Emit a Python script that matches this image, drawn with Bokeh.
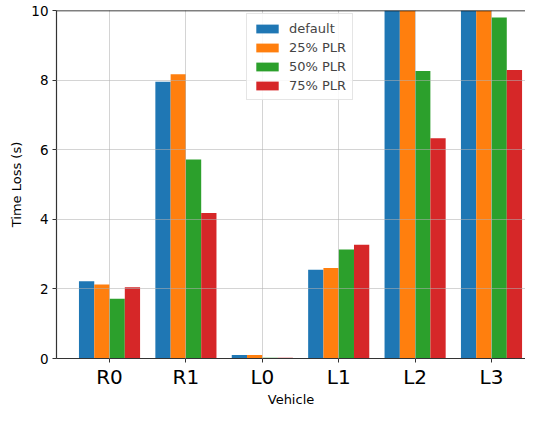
from bokeh.plotting import figure
from bokeh.models import ColumnDataSource, Legend, LegendItem, FixedTicker, Span, Range1d
from bokeh.embed import file_html
from bokeh.resources import INLINE

categories = ["R0", "R1", "L0", "L1", "L2", "L3"]
series_names = ["default", "25% PLR", "50% PLR", "75% PLR"]
default_vals = [2.22, 7.95, 0.10, 2.55, 12.0, 12.5]
plr25_vals = [2.13, 8.17, 0.10, 2.60, 12.2, 12.8]
plr50_vals = [1.72, 5.72, 0.02, 3.13, 8.26, 9.80]
plr75_vals = [2.05, 4.18, 0.02, 3.27, 6.33, 8.29]
y_ticks = [0, 2, 4, 6, 8, 10]

colors = ["#1f77b4", "#ff7f0e", "#2ca02c", "#d62728"]
all_vals = [default_vals, plr25_vals, plr50_vals, plr75_vals]

FONT = "DejaVu Sans"
p = figure(width=525, height=409, output_backend="svg", toolbar_location=None,
           x_range=Range1d(-0.694, 5.445), y_range=Range1d(0, 10),
           min_border_top=10, min_border_right=0, min_border_bottom=0, min_border_left=56)

bar_w = 0.2
offsets = [-0.3, -0.1, 0.1, 0.3]
items = []
for name, vals, col, off in zip(series_names, all_vals, colors, offsets):
    src = ColumnDataSource(dict(x=[i + off for i in range(len(categories))], top=vals))
    r = p.vbar(x="x", top="top", width=bar_w, bottom=0, source=src,
               fill_color=col, line_color=None)
    items.append(LegendItem(label=name, renderers=[r]))

p.outline_line_color = None
p.add_layout(Span(location=10, dimension="width", line_color="black", line_width=1.3))

# axes
p.xaxis.ticker = FixedTicker(ticks=list(range(len(categories))))
p.xaxis.major_label_overrides = {i: c for i, c in enumerate(categories)}
p.yaxis.ticker = FixedTicker(ticks=y_ticks)
for ax in (p.xaxis[0], p.yaxis[0]):
    ax.axis_line_color = "#333333"
    ax.axis_line_width = 1.2
    ax.major_tick_line_color = "#333333"
    ax.major_tick_out = 4
    ax.major_tick_in = 0
    ax.minor_tick_line_color = None
    ax.major_label_text_font = FONT
    ax.axis_label_text_font = FONT
    ax.axis_label_text_font_style = "normal"
    ax.axis_label_text_font_size = "13px"
    ax.axis_label_text_color = "black"
    ax.major_label_text_color = "black"
p.xaxis.major_label_text_font_size = "20px"
p.yaxis.major_label_text_font_size = "13.5px"
p.xaxis.axis_label = "Vehicle"
p.yaxis.axis_label = "Time Loss (s)"
p.xaxis.major_label_standoff = 2
p.xaxis.axis_label_standoff = 0
p.yaxis.major_label_standoff = 4
p.yaxis.axis_label_standoff = 4

# grid over bars
p.grid.grid_line_color = "#b0b0b0"
p.grid.grid_line_alpha = 0.55
p.grid.grid_line_width = 1
p.xgrid.ticker = FixedTicker(ticks=list(range(len(categories))))
p.ygrid.ticker = FixedTicker(ticks=y_ticks)
p.grid.level = "guide"

legend = Legend(items=items, location=(190, 258))
legend.label_text_font = FONT
legend.label_text_font_size = "13px"
legend.glyph_width = 28
legend.glyph_height = 11
legend.label_height = 16
legend.spacing = 3
legend.padding = 6
legend.margin = 0
legend.label_standoff = 8
legend.border_line_color = "#cccccc"
legend.border_line_width = 1
legend.background_fill_alpha = 0.85
p.add_layout(legend)

open("out.html", "w").write(file_html(p, INLINE))
